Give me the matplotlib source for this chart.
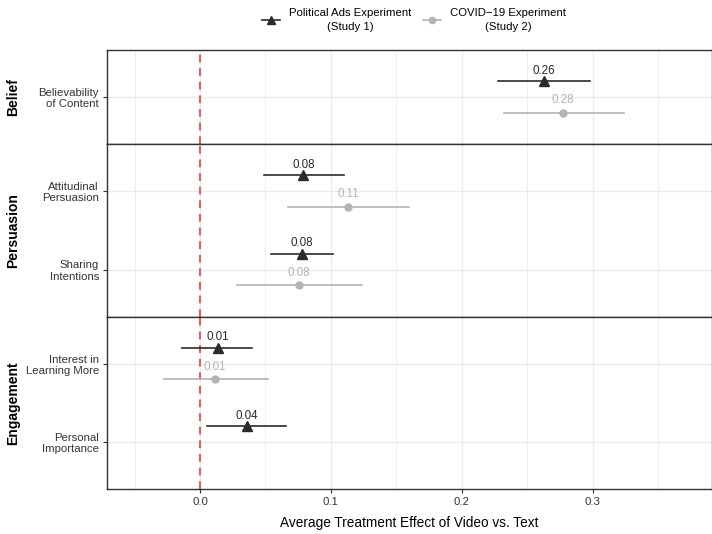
import numpy as np
import matplotlib
matplotlib.use('Agg')
import matplotlib.pyplot as plt
import matplotlib.transforms as mtrans
from matplotlib.lines import Line2D

plt.rcParams['font.family'] = ['Liberation Sans', 'DejaVu Sans']

# Data
outcomes = ['Believability\nof Content', 'Attitudinal\nPersuasion', 'Sharing\nIntentions',
            'Interest in\nLearning More', 'Personal\nImportance']
groups = ['Belief', 'Persuasion', 'Persuasion', 'Engagement', 'Engagement']
facets = ['Belief', 'Persuasion', 'Engagement']

study1_est = [0.263, 0.079, 0.078, 0.0135, 0.036]
study1_lo = [0.228, 0.049, 0.054, -0.014, 0.0053]
study1_hi = [0.298, 0.110, 0.102, 0.040, 0.0656]

study2_est = [0.277, 0.113, 0.0755, 0.0115, np.nan]
study2_lo = [0.232, 0.0675, 0.028, -0.0275, np.nan]
study2_hi = [0.324, 0.160, 0.124, 0.052, np.nan]

study_names = ['Political Ads Experiment\n(Study 1)', 'COVID\u221219 Experiment\n(Study 2)']
col1 = '#2b2b2b'
col2 = '#b3b3b3'
grid_col = '#ebebeb'
border_col = '#333333'

fig = plt.figure(figsize=(7.12, 5.34), dpi=100)
L, R, T, B = 107.3 / 712, 711.5 / 712, 1 - 50 / 534, 1 - 489 / 534
counts = [groups.count(f) for f in facets]
gs = fig.add_gridspec(3, 1, height_ratios=[c + 0.2 for c in counts], hspace=0,
                      left=L, right=R, top=T, bottom=B)

xlim = (-0.0708, 0.3908)
axes = []
for k, f in enumerate(facets):
    ax = fig.add_subplot(gs[k])
    axes.append(ax)
    idx = [i for i, g in enumerate(groups) if g == f]
    n = len(idx)
    ypos = {i: n - j for j, i in enumerate(idx)}
    ax.set_xlim(xlim)
    ax.set_ylim(0.4, n + 0.6)

    for x in np.arange(-0.05, 0.39, 0.05):
        major = abs(round(x / 0.1) * 0.1 - x) < 1e-9
        ax.axvline(x, color=grid_col, lw=1.0 if major else 0.6, zorder=0)
    for i in idx:
        ax.axhline(ypos[i], color=grid_col, lw=1.0, zorder=0)
    ax.axvline(0, color='#e8585a', lw=1.4, ls=(0, (4, 3)), zorder=1)

    for i in idx:
        y1 = ypos[i] + 0.2
        ax.plot([study1_lo[i], study1_hi[i]], [y1, y1], color=col1, lw=1.2, zorder=3)
        ax.plot(study1_est[i], y1, marker='^', color=col1, ms=6.5, zorder=4)
        ax.annotate('%.2f' % study1_est[i], (study1_est[i], y1), xytext=(0, 7.5),
                    textcoords='offset points', ha='center', va='center',
                    fontsize=8.4, color=col1)
        if not np.isnan(study2_est[i]):
            y2 = ypos[i] - 0.2
            ax.plot([study2_lo[i], study2_hi[i]], [y2, y2], color=col2, lw=1.2, zorder=3)
            ax.plot(study2_est[i], y2, marker='o', color=col2, ms=5, zorder=4)
            ax.annotate('%.2f' % study2_est[i], (study2_est[i], y2), xytext=(0, 9),
                        textcoords='offset points', ha='center', va='center',
                        fontsize=8.4, color=col2)

    ax.set_yticks([ypos[i] for i in idx])
    labs = ax.set_yticklabels([outcomes[i] for i in idx], fontsize=8.2, color='#333333')
    for t in labs:
        t.set_multialignment('right')
        t.set_linespacing(1.15)
    ax.tick_params(axis='y', length=3, width=0.8, color=border_col, pad=3)
    if k < len(facets) - 1:
        ax.tick_params(axis='x', bottom=False, labelbottom=False)
    else:
        ax.set_xticks([0.0, 0.1, 0.2, 0.3])
        ax.set_xticklabels(['0.0', '0.1', '0.2', '0.3'], fontsize=8.2, color='#333333')
        ax.tick_params(axis='x', length=3, width=0.8, color=border_col, pad=3)
        ax.set_xlabel('Average Treatment Effect of Video vs. Text', fontsize=9.8,
                      labelpad=6)
    for s in ax.spines.values():
        s.set_color(border_col)
        s.set_linewidth(1.0)

    tr = mtrans.blended_transform_factory(fig.transFigure, ax.transAxes)
    ax.text(13.5 / 712, 0.5, f, transform=tr, rotation=90, ha='center', va='center',
            fontsize=10, fontweight='bold')

handles = [Line2D([], [], color=col1, marker='^', ms=6, lw=1.2),
           Line2D([], [], color=col2, marker='o', ms=4.5, lw=1.2)]
leg = fig.legend(handles, study_names, loc='center', bbox_to_anchor=(414 / 712, 1 - 20 / 534),
                 ncol=2, frameon=False, fontsize=8.2, handlelength=1.6,
                 columnspacing=1.0, handletextpad=0.8)
for t in leg.get_texts():
    t.set_multialignment('center')
    t.set_linespacing(1.45)

fig.savefig('out.png', dpi=100)
